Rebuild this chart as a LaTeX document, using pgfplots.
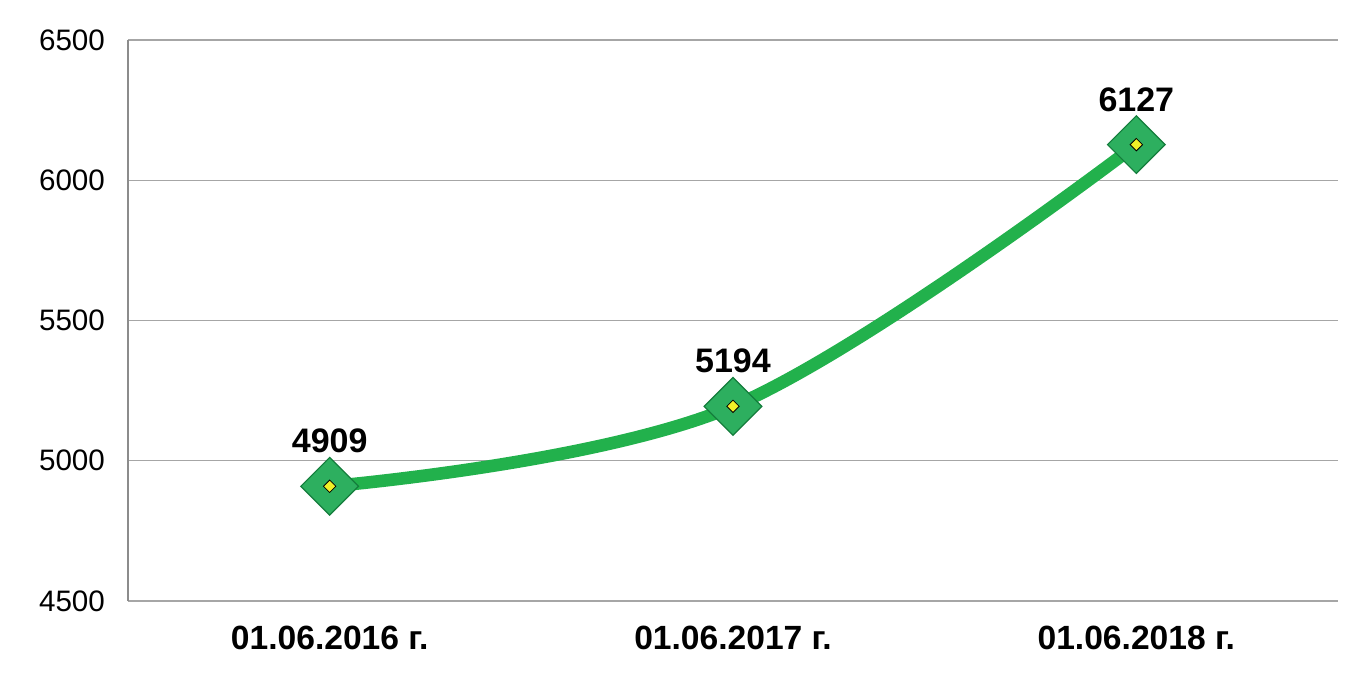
\documentclass[border=0pt]{standalone}
\usepackage{pgfplots}
\pgfplotsset{compat=1.18}
\usepackage{fontspec}
\setmainfont{Liberation Sans}
\definecolor{lgreen}{RGB}{34,177,76}
\definecolor{mgreen}{RGB}{45,175,95}
\definecolor{dgreen}{RGB}{20,125,60}
\definecolor{dotyel}{RGB}{240,240,40}
\begin{document}
\begin{tikzpicture}
\begin{axis}[
  scale only axis,
  width=605pt, height=280.5pt,
  xmin=-0.5, xmax=2.5,
  ymin=4500, ymax=6500,
  ytick={4500,5000,5500,6000,6500},
  xtick={0,1,2},
  xticklabels={01.06.2016 г.,01.06.2017 г.,01.06.2018 г.},
  x tick label style={font=\fontsize{16.8}{20}\selectfont\bfseries, yshift=-9pt},
  y tick label style={font=\fontsize{14.8}{17}\selectfont, xshift=-8pt},
  /pgf/number format/assume math mode=true,
  /pgf/number format/1000 sep={},
  ymajorgrids,
  grid style={gray!70, line width=0.6pt},
  axis x line*=bottom,
  axis y line*=left,
  x axis line style={gray!70, line width=0.6pt},
  y axis line style={gray!90, line width=0.6pt},
  major tick length=0pt,
  tick style={draw=none},
  clip=false,
]
\addplot[lgreen, line width=6.3pt, smooth, tension=0.6] coordinates {(0,4909) (1,5194) (2,6127)};
\addplot[only marks, mark=square*, mark size=10.2pt,
  mark options={rotate=45, fill=mgreen, draw=dgreen, line width=0.6pt},
  nodes near coords, point meta=explicit symbolic,
  every node near coord/.style={font=\fontsize{17}{20}\selectfont\bfseries, black, yshift=13pt}]
  coordinates {(0,4909)[4909] (1,5194)[5194] (2,6127)[6127]};
\addplot[only marks, mark=square*, mark size=2.2pt, mark options={rotate=45, fill=dotyel, draw=none}]
  coordinates {(0,4909) (1,5194) (2,6127)};
\end{axis}
\path (current axis.south west) ++(-64pt,-40.5pt) coordinate (bl);
\path (current axis.north east) ++(9pt,20pt) coordinate (tr);
\path (bl) rectangle (tr);
\end{tikzpicture}
\end{document}
